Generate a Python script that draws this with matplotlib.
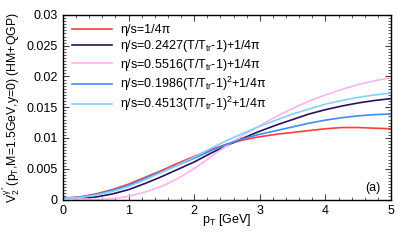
import matplotlib
matplotlib.use('Agg')
import matplotlib.pyplot as plt
from matplotlib.ticker import MultipleLocator

plt.rcParams['font.family'] = ['Liberation Sans', 'DejaVu Sans']
plt.rcParams['mathtext.default'] = 'regular'

# pT grid [GeV]
pt = [0, 0.25, 0.5, 0.75, 1, 1.25, 1.5, 1.75, 2, 2.25, 2.5,
      2.75, 3, 3.25, 3.5, 3.75, 4, 4.25, 4.5, 4.75, 5]

# v2 values
v2_const = [0.0002, 0.0004, 0.0009, 0.0016, 0.0025, 0.0036, 0.0047, 0.0059, 0.0070, 0.0081, 0.0090,
            0.0097, 0.0102, 0.0106, 0.0109, 0.0112, 0.0115, 0.0117, 0.0117, 0.0116, 0.0115]
v2_lin1 = [0.0002, 0.0002, 0.0004, 0.0009, 0.0016, 0.0026, 0.0037, 0.0049, 0.0061, 0.0075, 0.0088,
           0.0100, 0.0111, 0.0121, 0.0130, 0.0139, 0.0146, 0.0152, 0.0157, 0.0161, 0.0164]
v2_lin2 = [0.0002, 0.0001, 0.0000, 0.0001, 0.0005, 0.0012, 0.0021, 0.0034, 0.0050, 0.0069, 0.0088,
           0.0105, 0.0120, 0.0135, 0.0148, 0.0160, 0.0170, 0.0179, 0.0187, 0.0193, 0.0198]
v2_quad1 = [0.0002, 0.0004, 0.0008, 0.0015, 0.0023, 0.0034, 0.0045, 0.0056, 0.0067, 0.0079, 0.0090,
            0.0099, 0.0106, 0.0112, 0.0118, 0.0124, 0.0129, 0.0133, 0.0136, 0.0138, 0.0139]
v2_quad2 = [0.0002, 0.0003, 0.0007, 0.0013, 0.0021, 0.0032, 0.0044, 0.0056, 0.0069, 0.0083, 0.0096,
            0.0108, 0.0119, 0.0129, 0.0139, 0.0147, 0.0155, 0.0161, 0.0166, 0.0170, 0.0173]

labels = [r'η/s=1/4π',
          r'η/s=0.2427(T/T$_{tr}$-1)+1/4π',
          r'η/s=0.5516(T/T$_{tr}$-1)+1/4π',
          r'η/s=0.1986(T/T$_{tr}$-1)$^2$+1/4π',
          r'η/s=0.4513(T/T$_{tr}$-1)$^2$+1/4π']
colors = ['#ff3b3b', '#2d0f5e', '#ffb3f2', '#3a8ff5', '#85d0ff']
series = [v2_const, v2_lin1, v2_lin2, v2_quad1, v2_quad2]

fig = plt.figure(figsize=(4.11, 2.47), dpi=100)
ax = fig.add_axes([0.1533, 0.1923, 0.798, 0.747])

for y, c, lab in zip(series, colors, labels):
    ax.plot(pt, y, color=c, lw=1.2, label=lab)

ax.set_xlim(0, 5)
ax.set_ylim(0, 0.03)
ax.xaxis.set_major_locator(MultipleLocator(1))
ax.xaxis.set_minor_locator(MultipleLocator(0.2))
ax.yaxis.set_minor_locator(MultipleLocator(0.0005))
ax.set_yticks([0, 0.005, 0.01, 0.015, 0.02, 0.025, 0.03])
ax.set_yticklabels(['0', '0.005', '0.01', '0.015', '0.02', '0.025', '0.03'])
ax.tick_params(which='both', direction='in', top=True, right=True, labelsize=9, color='#444444')
ax.tick_params(which='major', length=4, pad=4)
ax.tick_params(which='minor', length=2)
for s in ax.spines.values():
    s.set_linewidth(1.0)

ax.set_xlabel(r'p$_T$ [GeV]', fontsize=9, labelpad=-4)
ax.set_ylabel(r'V$_2^{\gamma^*}$(p$_T$,M=1.5GeV,y=0) (HM+QGP)', fontsize=8.8, labelpad=3)
ax.text(4.73, 0.0018, '(a)', fontsize=9, ha='center', va='center')

ax.legend(loc='upper left', frameon=False, fontsize=9, handlelength=3.2,
          labelspacing=0.17, borderaxespad=0.4, borderpad=0.35, handletextpad=0.6)

fig.savefig('out.png', dpi=100)
